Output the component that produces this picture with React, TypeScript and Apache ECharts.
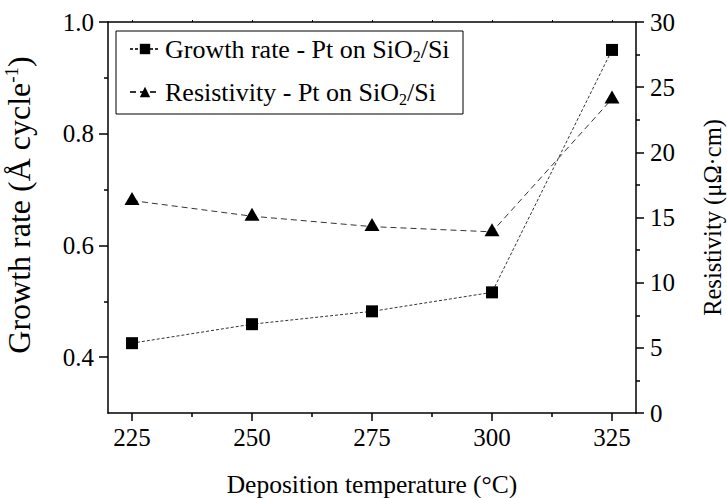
import React, { useEffect, useRef } from "react";
import * as echarts from "echarts";

const temperatures = [225, 250, 275, 300, 325];
const growthRate = [0.425, 0.459, 0.482, 0.516, 0.95];
const resistivity = [16.3, 15.1, 14.3, 13.9, 24.1];

const xMajorTicks = [225, 250, 275, 300, 325];
const xMinorTicks = [237.5, 262.5, 287.5, 312.5];
const yLeftMajorTicks = [0.4, 0.6, 0.8, 1.0];
const yLeftMinorTicks = [0.5, 0.7, 0.9];

const FONT = "Liberation Serif";

export default function App() {
  const ref = useRef<HTMLDivElement>(null);
  useEffect(() => {
    if (!ref.current) return;
    const chart = echarts.init(ref.current, undefined, { renderer: "svg" });
    const axisLine = { show: true, lineStyle: { color: "#000", width: 1.5 } };
    const labelStyle = { fontFamily: FONT, fontSize: 25, color: "#000" };
    const legendRich = {
      sub: { fontFamily: FONT, fontSize: 16, color: "#000", verticalAlign: "bottom", padding: [14, 0, 0, 0] },
    };
    chart.setOption({
      animation: false,
      grid: { left: 108, top: 22, right: 91, bottom: 85, outerBoundsMode: "none", containLabel: false },
      legend: {
        show: true,
        orient: "vertical",
        left: 124,
        top: 31,
        itemGap: 15,
        itemWidth: 30,
        itemHeight: 13,
        data: ["growth", "resistivity"],
        formatter: (name: string) =>
          name === "growth"
            ? "Growth rate - Pt on SiO{sub|2}/Si"
            : "Resistivity - Pt on SiO{sub|2}/Si",
        textStyle: { fontFamily: FONT, fontSize: 26, color: "#000", rich: legendRich },
      },
      graphic: [
        {
          type: "rect",
          shape: { x: 116, y: 31, width: 347, height: 83 },
          style: { fill: "none", stroke: "#000", lineWidth: 1 },
          z: 10,
        },
        {
          type: "text",
          x: 19,
          y: 205,
          rotation: Math.PI / 2,
          style: {
            text: "Growth rate (Å cycle{sup|-1})",
            fontFamily: FONT,
            fontSize: 32,
            fill: "#000",
            align: "center",
            verticalAlign: "middle",
            rich: {
              sup: { fontFamily: FONT, fontSize: 19, fill: "#000", verticalAlign: "top", padding: [0, 0, 15, 0] },
            },
          },
        },
      ],
      xAxis: [
        {
          type: "value",
          position: "bottom",
          min: 220,
          max: 330,
          axisLine,
          axisTick: { show: true, customValues: xMajorTicks, length: 8, lineStyle: { color: "#000", width: 1.5 } },
          axisLabel: { show: true, customValues: xMajorTicks, margin: 12, ...labelStyle },
          splitLine: { show: false },
          name: "Deposition temperature (°C)",
          nameLocation: "middle",
          nameGap: 58,
          nameTextStyle: { fontFamily: FONT, fontSize: 25.5, color: "#000" },
        },
        {
          type: "value",
          position: "bottom",
          min: 220,
          max: 330,
          axisLine: { show: false },
          axisTick: { show: true, customValues: xMinorTicks, length: 4, lineStyle: { color: "#000", width: 1.5 } },
          axisLabel: { show: false },
          splitLine: { show: false },
        },
        {
          type: "value",
          position: "top",
          min: 220,
          max: 330,
          axisLine,
          axisTick: {
            show: true,
            customValues: [...xMajorTicks, ...xMinorTicks],
            length: 2,
            lineStyle: { color: "#000", width: 1 },
          },
          axisLabel: { show: false },
          splitLine: { show: false },
        },
      ],
      yAxis: [
        {
          type: "value",
          position: "left",
          min: 0.3,
          max: 1.0,
          axisLine,
          axisTick: { show: true, customValues: yLeftMajorTicks, length: 9, lineStyle: { color: "#000", width: 1.5 } },
          axisLabel: {
            show: true,
            customValues: yLeftMajorTicks,
            margin: 14,
            formatter: (v: number) => v.toFixed(1),
            ...labelStyle,
          },
          splitLine: { show: false },
        },
        {
          type: "value",
          position: "left",
          min: 0.3,
          max: 1.0,
          axisLine: { show: false },
          axisTick: { show: true, customValues: yLeftMinorTicks, length: 4, lineStyle: { color: "#000", width: 1.5 } },
          axisLabel: { show: false },
          splitLine: { show: false },
        },
        {
          type: "value",
          position: "right",
          min: 0,
          max: 30,
          interval: 5,
          axisLine,
          axisTick: { show: true, length: 8, lineStyle: { color: "#000", width: 1.5 } },
          minorTick: { show: true, splitNumber: 2, length: 4, lineStyle: { color: "#000", width: 1.5 } },
          axisLabel: { show: true, margin: 14, ...labelStyle },
          splitLine: { show: false },
          name: "Resistivity (μΩ·cm)",
          nameLocation: "middle",
          nameRotate: 90,
          nameGap: 64,
          nameTextStyle: { fontFamily: FONT, fontSize: 24.5, color: "#000" },
        },
      ],
      series: [
        {
          name: "growth",
          type: "line",
          xAxisIndex: 0,
          yAxisIndex: 0,
          data: temperatures.map((t, i) => [t, growthRate[i]]),
          symbol: "rect",
          symbolSize: 12,
          itemStyle: { color: "#000" },
          lineStyle: { color: "#333", width: 1, type: [3, 2] },
        },
        {
          name: "resistivity",
          type: "line",
          xAxisIndex: 0,
          yAxisIndex: 2,
          data: temperatures.map((t, i) => [t, resistivity[i]]),
          symbol: "triangle",
          symbolSize: [15, 13],
          symbolOffset: [0, -2],
          itemStyle: { color: "#000" },
          lineStyle: { color: "#333", width: 1, type: [6, 4] },
        },
      ],
    });
    return () => chart.dispose();
  }, []);
  return (
    <div
      ref={ref}
      style={{ position: "fixed", left: 0, top: 0, width: 727, height: 498, background: "#fff" }}
    />
  );
}
